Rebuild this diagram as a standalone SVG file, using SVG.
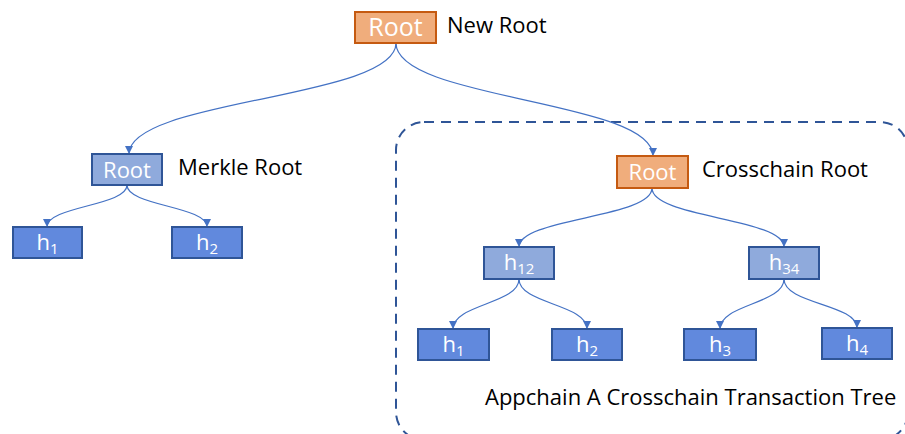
<svg xmlns="http://www.w3.org/2000/svg" width="905" height="434" viewBox="0 0 905 434">
  <style>
    .root { fill: #F0AD7C; stroke: #C55A11; stroke-width: 2; }
    .mid { fill: #8FAADC; stroke: #2F5597; stroke-width: 2; }
    .leaf { fill: #6189DD; stroke: #2F5597; stroke-width: 2; }
    .in { font-family: "Open Sans", "Noto Sans", sans-serif; fill: #ffffff; text-anchor: middle; font-size: 22px; }
    .lbl { font-family: "Open Sans", "Noto Sans", sans-serif; fill: #000000; font-size: 22px; }
    .sub { font-size: 15px; }
    .edge { fill: none; stroke: #4472C4; stroke-width: 1.2; marker-end: url(#arrow); }
    .frame { fill: none; stroke: #2F5597; stroke-width: 2; stroke-dasharray: 10 7; }
  </style>
  <defs>
    <marker id="arrow" viewBox="0 0 10 10" refX="10" refY="5" markerWidth="9" markerHeight="8" markerUnits="userSpaceOnUse" orient="auto">
      <path d="M0,0 L10,5 L0,10 z" fill="#4472C4"/>
    </marker>
  </defs>
  <rect width="905" height="434" fill="#ffffff"/>

  <!-- dashed frame around the appchain subtree -->
  <rect class="frame" x="396" y="122" width="512" height="318" rx="28"/>

  <!-- connectors -->
  <g id="edges">
    <path class="edge" d="M396,43 C396,99 129,99 129,154"/>
    <path class="edge" d="M396,43 C396,100 653,100 653,156"/>
    <path class="edge" d="M127,185 C127,206 47,206 47,227"/>
    <path class="edge" d="M127,185 C127,206 207,206 207,227"/>
    <path class="edge" d="M652,188 C652,218 519,218 519,247"/>
    <path class="edge" d="M652,188 C652,218 784,218 784,247"/>
    <path class="edge" d="M519,279 C519,304 453,304 453,329"/>
    <path class="edge" d="M519,279 C519,304 587,304 587,329"/>
    <path class="edge" d="M784,279 C784,304 720,304 720,329"/>
    <path class="edge" d="M784,279 C784,304 857,304 857,328"/>
  </g>

  <g id="new-root">
    <rect class="root" x="355" y="12" width="81" height="31"/>
    <text class="in" x="395.5" y="36" style="font-size:25px">Root</text>
    <text class="lbl" x="447" y="33">New Root</text>
  </g>

  <g id="merkle-root">
    <rect class="mid" x="92" y="154" width="70" height="31"/>
    <text class="in" x="127" y="177.5">Root</text>
    <text class="lbl" x="178" y="175">Merkle Root</text>
  </g>

  <g id="m-h1">
    <rect class="leaf" x="13" y="227" width="69" height="31"/>
    <text class="in" x="47.5" y="250">h<tspan class="sub" dy="4">1</tspan></text>
  </g>
  <g id="m-h2">
    <rect class="leaf" x="172" y="227" width="70" height="31"/>
    <text class="in" x="207" y="250">h<tspan class="sub" dy="4">2</tspan></text>
  </g>

  <g id="crosschain-root">
    <rect class="root" x="617" y="156" width="71" height="32"/>
    <text class="in" x="652.5" y="179.5">Root</text>
    <text class="lbl" x="702" y="177">Crosschain Root</text>
  </g>

  <g id="h12">
    <rect class="mid" x="484" y="247" width="70" height="32"/>
    <text class="in" x="519" y="270">h<tspan class="sub" dy="4">12</tspan></text>
  </g>
  <g id="h34">
    <rect class="mid" x="749" y="247" width="70" height="32"/>
    <text class="in" x="784" y="270">h<tspan class="sub" dy="4">34</tspan></text>
  </g>

  <g id="a-h1">
    <rect class="leaf" x="418" y="329" width="71" height="31"/>
    <text class="in" x="453.5" y="352">h<tspan class="sub" dy="4">1</tspan></text>
  </g>
  <g id="a-h2">
    <rect class="leaf" x="552" y="329" width="70" height="31"/>
    <text class="in" x="587" y="352">h<tspan class="sub" dy="4">2</tspan></text>
  </g>
  <g id="a-h3">
    <rect class="leaf" x="684" y="329" width="72" height="31"/>
    <text class="in" x="720" y="352">h<tspan class="sub" dy="4">3</tspan></text>
  </g>
  <g id="a-h4">
    <rect class="leaf" x="822" y="328" width="70" height="31"/>
    <text class="in" x="857" y="351">h<tspan class="sub" dy="4">4</tspan></text>
  </g>

  <text class="lbl" x="485" y="405">Appchain A Crosschain Transaction Tree</text>
</svg>
